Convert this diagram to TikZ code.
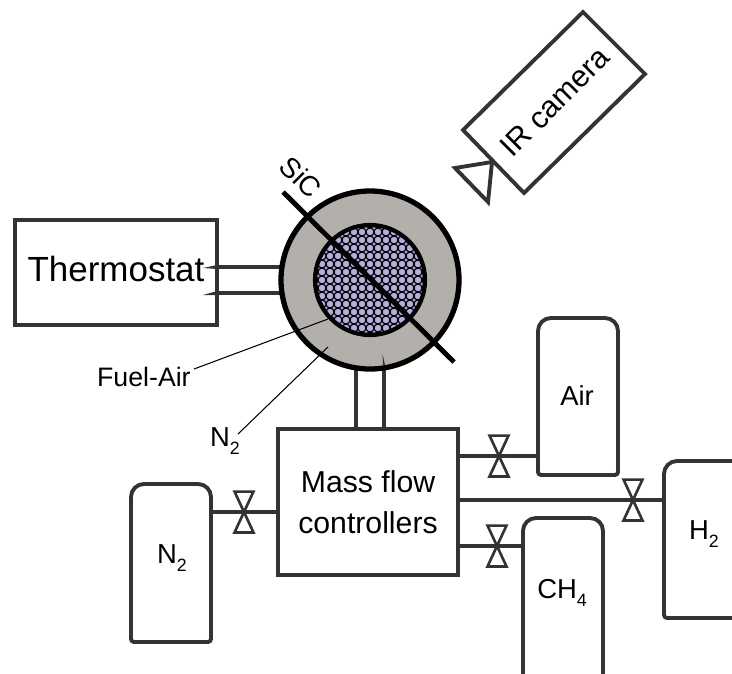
\documentclass[tikz,border=0pt]{standalone}
\usepackage{fontspec}
\setmainfont{Liberation Sans}
\definecolor{jacket}{HTML}{B3B0AC}
\definecolor{fuelair}{HTML}{B5AEDD}
\definecolor{wall}{HTML}{333333}
\tikzset{
	unit/.style={draw=none, inner sep=0pt, outer sep=0pt},
	boxunit/.style={draw=wall, line width=2.3pt, inner sep=0pt, outer sep=0pt, align=center},
	pipe/.style={draw=wall, line width=2.2pt},
	tankwall/.style={draw=wall, line width=2.2pt, line join=round},
	valvebox/.style={unit, minimum width=19*0.567pt, minimum height=41*0.567pt},
	valveline/.style={draw=wall, line width=1.5pt, line join=miter},
	leader/.style={draw=black, line width=0.6pt},
	tanklabel/.style={font=\fontsize{15.6pt}{18pt}\selectfont, inner sep=0pt}
}
\newcommand{\lowsub}[1]{\raisebox{-0.3em}{\scalebox{0.65}{#1}}}
\newcommand{\valve}[2]{
	\node[valvebox] (#1) at (#2) {};
	\draw[valveline] (#1.north west) -- (#1.north east) -- (#1.south west) -- (#1.south east) -- cycle;
}
\begin{document}
\begin{tikzpicture}[x=0.02cm, y=-0.02cm]
	\useasboundingbox (0, 0) rectangle (732, 673);

	% reactor
	\node[circle, unit, minimum size=178*0.567pt] (jacket) at (370, 280) {};
	\node[circle, unit, minimum size=110*0.567pt] (core) at (370, 280) {};

	% pipes under the reactor
	\coordinate (thermotop) at (217, 267);
	\coordinate (thermobot) at (217, 293);
	\coordinate (flowleft) at (356, 429);
	\coordinate (flowright) at (384, 429);
	\draw[pipe] (thermotop) -- (thermotop -| jacket.west);
	\draw[pipe] (thermobot) -- (thermobot -| jacket.west);
	\draw[pipe] (flowleft) -- (356, 365);
	\draw[pipe] (flowright) -- (384, 365);

	\fill[jacket] (jacket) circle (89);
	\draw[black, line width=3pt] (jacket) circle (89);
	\fill[wall] (383, 365) -- (382.5, 354) -- (385, 365) -- cycle;

	\fill[fuelair] (core) circle (55);
	\begin{scope}
		\clip (core) circle (55);
		\foreach \i in {-7,...,7}
			\foreach \j in {-7,...,7}
				\draw[black, line width=0.65pt] (370+8*\i, 280+8*\j) circle (4);
	\end{scope}
	\draw[black, line width=2.4pt] (core) circle (55);

	% SiC plate
	\coordinate (platetop) at (283, 192);
	\coordinate (platebot) at (454, 362);
	\draw[black, line width=2.8pt] (platetop) -- (platebot);
	\node[rotate=-45, inner sep=0pt, font=\fontsize{16pt}{18pt}\selectfont] (sic) at (301, 177) {SiC};

	% labels with leaders
	\node[anchor=east, inner sep=0pt, font=\fontsize{15.2pt}{18pt}\selectfont] (fuellabel) at (191, 377) {Fuel-Air};
	\node[inner sep=0pt, font=\fontsize{15.6pt}{18pt}\selectfont] (n2label) at (225, 441) {N\lowsub{2}};
	\coordinate (fuelend) at (328, 319);
	\coordinate (n2end) at (328, 347);
	\draw[leader] (194, 369) -- (fuelend);
	\draw[leader] (238, 434) -- (n2end);

	% thermostat
	\node[boxunit, minimum width=202*0.567pt, minimum height=105*0.567pt] (thermostat) at (116, 272.5) {};
	\node[inner sep=0pt, font=\fontsize{19.9pt}{23pt}\selectfont] (thermotext) at (116, 269) {Thermostat};
	\fill[wall] (thermotop) ++(0, -2) -- ++(0, 4) -- (203, 268) -- cycle;
	\fill[wall] (thermobot) ++(0, -2) -- ++(0, 4) -- (203, 295) -- cycle;

	% IR camera
	\coordinate (cama) at (583, 12);
	\coordinate (camb) at (645, 74);
	\coordinate (camc) at (524, 193);
	\coordinate (camd) at (463, 130);
	\draw[tankwall, line join=miter] (cama) -- (camb) -- (camc) -- (camd) -- cycle;
	\draw[tankwall, line join=miter] (492, 162) -- (455, 168) -- (488, 202) -- cycle;
	\node[rotate=45, inner sep=0pt, font=\fontsize{17.3pt}{21pt}\selectfont] (camera) at (555, 102) {IR camera};

	% mass flow controllers
	\node[boxunit, minimum width=180*0.567pt, minimum height=146*0.567pt,
		font=\fontsize{17.2pt}{23.5pt}\selectfont] (massflow) at (368, 502) {Mass flow\\controllers};

	% tanks
	\draw[tankwall, rounded corners=13*0.567pt] (131, 520) -- (131, 484) -- (211, 484) -- (211, 520);
	\draw[tankwall, rounded corners=3*0.567pt] (211, 520) -- (211, 642) -- (131, 642) -- (131, 520);
	\draw[tankwall, rounded corners=13*0.567pt] (538, 380) -- (538, 318) -- (618, 318) -- (618, 380);
	\draw[tankwall, rounded corners=3*0.567pt] (618, 380) -- (618, 475) -- (538, 475) -- (538, 380);
	\draw[tankwall, rounded corners=13*0.567pt] (523, 676) -- (523, 518) -- (603, 518) -- (603, 676);
	\draw[tankwall, rounded corners=13*0.567pt] (745, 461) -- (664, 461) -- (664, 530);
	\draw[tankwall, rounded corners=3*0.567pt] (664, 530) -- (664, 618) -- (745, 618);

	\node[tanklabel] (n2tank) at (172, 558) {N\lowsub{2}};
	\node[tanklabel] (airtank) at (577, 396) {Air};
	\node[tanklabel] (ch4tank) at (562, 593) {CH\lowsub{4}};
	\node[tanklabel] (h2tank) at (704, 534) {H\lowsub{2}};

	% valves and feed lines
	\valve{valven}{244, 512}
	\valve{valveair}{499, 456}
	\valve{valveh}{633, 500}
	\valve{valvech}{497, 546}
	\draw[pipe] (211, 512) -- (valven.center) -- (valven -| massflow.west);
	\draw[pipe] (valveair -| massflow.east) -- (valveair.center) -- (538, 456);
	\draw[pipe] (valveh -| massflow.east) -- (valveh.center) -- (664, 500);
	\draw[pipe] (valvech -| massflow.east) -- (valvech.center) -- (523, 546);
\end{tikzpicture}
\end{document}
